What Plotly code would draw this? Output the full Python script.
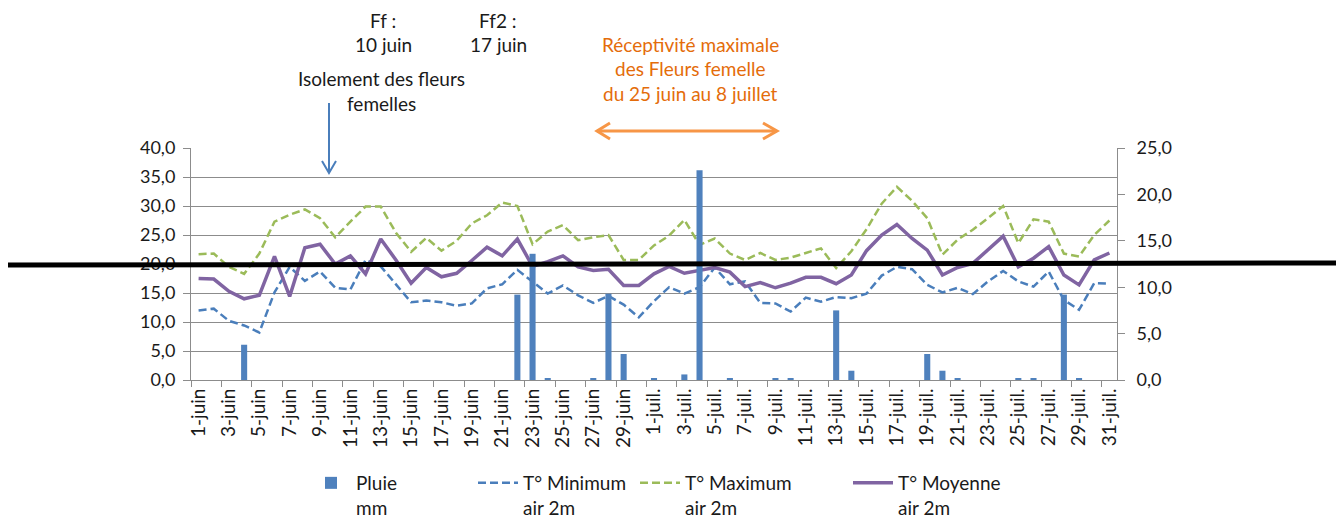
import plotly.graph_objects as go

# ---------------- data ----------------
juin = [f"{d}-juin" for d in range(1, 31)]
juil = [f"{d}-juil." for d in range(1, 32)]
days = juin + juil

pluie_mm = [0, 0, 0, 3.8, 0, 0, 0, 0, 0, 0,
            0, 0, 0, 0, 0, 0, 0, 0, 0, 0,
            0, 9.2, 13.6, 0.2, 0, 0, 0.2, 9.3, 2.8, 0,
            0.2, 0, 0.6, 22.6, 0, 0.2, 0, 0, 0.2, 0.2,
            0, 0, 7.5, 1.0, 0, 0, 0, 0, 2.8, 1.0,
            0.2, 0, 0, 0, 0.2, 0.2, 0, 9.2, 0.2, 0, 0]

t_min = [12.0, 12.3, 10.2, 9.4, 8.2, 15.1, 19.5, 17.1, 18.7, 15.9,
         15.6, 20.7, 19.6, 16.5, 13.4, 13.7, 13.4, 12.8, 13.2, 15.8,
         16.5, 19.0, 16.9, 14.9, 16.3, 14.6, 13.3, 14.5, 13.0, 10.8,
         13.6, 16.0, 14.9, 16.0, 19.4, 16.5, 17.0, 13.3, 13.2, 11.8,
         14.2, 13.5, 14.3, 14.1, 14.9, 18.0, 19.5, 19.1, 16.4, 15.1,
         15.9, 14.8, 17.0, 18.8, 17.0, 16.1, 18.7, 13.8, 12.1, 16.7, 16.6]

t_max = [21.7, 21.8, 19.5, 18.3, 21.8, 27.3, 28.5, 29.4, 27.9, 24.6,
         27.3, 29.9, 29.9, 25.4, 22.1, 24.5, 22.3, 24.0, 27.0, 28.4,
         30.6, 30.0, 23.4, 25.6, 26.7, 24.1, 24.6, 25.0, 20.7, 20.7,
         23.2, 24.9, 27.6, 23.3, 24.4, 21.8, 20.7, 21.9, 20.7, 21.1,
         21.9, 22.7, 19.3, 22.2, 26.0, 30.4, 33.3, 30.9, 27.9, 21.6,
         24.2, 25.9, 27.9, 30.0, 23.6, 27.7, 27.3, 21.8, 21.3, 25.0, 27.5]

t_moy = [17.5, 17.4, 15.3, 14.0, 14.6, 21.3, 14.4, 22.8, 23.4, 20.0,
         21.4, 18.3, 24.3, 20.7, 16.7, 19.4, 17.8, 18.4, 20.6, 22.9,
         21.4, 24.3, 19.6, 20.4, 21.4, 19.5, 18.9, 19.1, 16.3, 16.3,
         18.3, 19.6, 18.4, 18.9, 19.4, 18.6, 16.1, 16.8, 15.9, 16.7,
         17.7, 17.7, 16.6, 18.1, 22.3, 25.0, 26.8, 24.4, 22.4, 18.1,
         19.4, 20.1, 22.4, 24.8, 19.5, 21.0, 23.0, 18.1, 16.4, 20.7, 21.9]

names = ["Pluie<br>mm", "T° Minimum<br>air 2m", "T° Maximum<br>air 2m", "T° Moyenne<br>air 2m"]

# ---------------- layout geometry helpers (pixels -> paper) ----------------
W, H = 1336, 519
L, R, T, B = 191, 1117, 148, 380
PW, PH = R - L, B - T


def px(x):
    return (x - L) / PW


def py(y):
    return (B - y) / PH


FONT = "Lato"
TXT = "#1a1a1a"
GRID = "#8c8c8c"
FS = 19

fig = go.Figure()

fig.add_trace(go.Scatter(x=days, y=t_min, name=names[1], mode="lines",
                         line=dict(color="#4A7EBB", width=2.5, dash="8px,4px"),
                         legend="legend2"))
fig.add_trace(go.Scatter(x=days, y=t_max, name=names[2], mode="lines",
                         line=dict(color="#9BBB59", width=2.5, dash="8px,4px"),
                         legend="legend3"))
fig.add_trace(go.Scatter(x=days, y=t_moy, name=names[3], mode="lines",
                         line=dict(color="#8064A2", width=3.5),
                         legend="legend4"))
fig.add_trace(go.Bar(x=days, y=pluie_mm, name=names[0], yaxis="y2",
                     marker=dict(color="#4F81BD", line=dict(width=0)),
                     legend="legend", showlegend=True))

xfont = dict(family=FONT, size=FS, color=TXT)
yfont = dict(family=FONT, size=18, color=TXT)

fig.update_layout(
    width=W, height=H,
    template="none",
    showlegend=True,
    paper_bgcolor="white", plot_bgcolor="white",
    margin=dict(l=L, r=W - R, t=T, b=H - B, autoexpand=False),
    separators=", ",
    bargap=0.6,
    font=dict(family=FONT, size=FS, color=TXT),
    xaxis=dict(
        type="category", tickmode="linear", tick0=0, dtick=2,
        tickson="boundaries", ticks="outside", ticklen=6, tickcolor=GRID,
        tickangle=-90, tickfont=xfont,
        showline=True, linecolor=GRID, linewidth=1, showgrid=False,
        automargin=False, range=[-0.5, len(days) - 0.5],
    ),
    yaxis=dict(
        range=[0, 40], dtick=5, tickformat=".1f", tickfont=yfont,
        showgrid=True, gridcolor=GRID, gridwidth=1, zeroline=False,
        showline=True, linecolor=GRID, linewidth=1,
        ticks="outside", ticklen=7, tickcolor=GRID, automargin=False,
        ticklabelstandoff=4,
    ),
    yaxis2=dict(
        range=[0, 25], dtick=5, tickformat=".1f", tickfont=yfont,
        overlaying="y", side="right", showgrid=False, zeroline=False,
        showline=True, linecolor=GRID, linewidth=1,
        ticks="outside", ticklen=7, tickcolor=GRID, automargin=False,
        ticklabelstandoff=8,
    ),
)

leg_common = dict(orientation="h", yanchor="top", xanchor="left", valign="top",
                  bgcolor="rgba(0,0,0,0)", font=dict(family=FONT, size=FS, color=TXT),
                  itemwidth=40)
LEG_Y = 464
fig.update_layout(
    legend=dict(x=px(306), y=py(LEG_Y), **leg_common),
    legend2=dict(x=px(473), y=py(LEG_Y), **leg_common),
    legend3=dict(x=px(635), y=py(LEG_Y), **leg_common),
    legend4=dict(x=px(848), y=py(LEG_Y), **leg_common),
)

# ---------------- annotations ----------------
def label(text, x, y, color=TXT):
    fig.add_annotation(text=text, x=px(x), y=py(y), xref="paper", yref="paper",
                       showarrow=False, xanchor="center", yanchor="middle",
                       font=dict(family=FONT, size=FS, color=color))


label("Ff :", 383, 20)
label("10 juin", 383, 44)
label("Ff2 :", 498, 20)
label("17 juin", 498, 44)
label("Isolement des fleurs", 381, 78)
label("femelles", 381, 103)
ORANGE_T = "#E46C0A"
label("Réceptivité maximale", 690, 44, ORANGE_T)
label("des Fleurs femelle", 690, 68, ORANGE_T)
label("du 25 juin au 8 juillet", 690, 93, ORANGE_T)


def path(points):
    return "M " + " L ".join(f"{px(a):.5f},{py(b):.5f}" for a, b in points)


# blue arrow
fig.add_shape(type="path", xref="paper", yref="paper",
              path=path([(329, 103), (329, 172)]),
              line=dict(color="#4A7EBB", width=2))
fig.add_shape(type="path", xref="paper", yref="paper",
              path=path([(322, 161), (329, 173), (336, 161)]),
              line=dict(color="#4A7EBB", width=2))

# orange double arrow
ORANGE = "#F79646"
fig.add_shape(type="path", xref="paper", yref="paper",
              path=path([(597, 131), (776, 131)]),
              line=dict(color=ORANGE, width=3))
fig.add_shape(type="path", xref="paper", yref="paper",
              path=path([(610, 123), (597, 131), (610, 139)]),
              line=dict(color=ORANGE, width=3))
fig.add_shape(type="path", xref="paper", yref="paper",
              path=path([(763, 123), (777, 131), (763, 139)]),
              line=dict(color=ORANGE, width=3))

# thick black hand-drawn line across the chart
fig.add_shape(type="path", xref="paper", yref="paper",
              path=path([(8, 265), (1336, 263)]),
              line=dict(color="black", width=5))

fig.write_html("out.html", config={"displayModeBar": False},
               post_script="document.body.style.margin='0';document.body.style.overflow='hidden';")
